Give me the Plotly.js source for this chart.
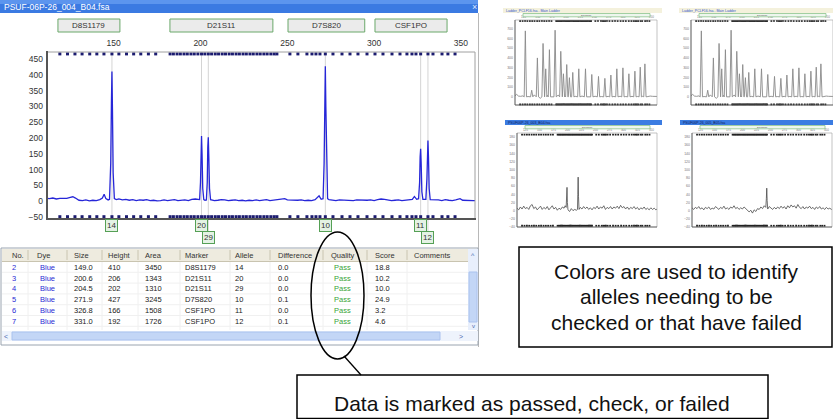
<!DOCTYPE html>
<html><head><meta charset="utf-8">
<script src="https://cdn.plot.ly/plotly-3.0.1.min.js"></script>
<style>html,body{margin:0;padding:0;background:#fff;overflow:hidden}#chart{width:833px;height:419px}</style>
</head><body><div id="chart"></div>
<script>
// ================= DATA =================
const windowTitle = "PSUF-06P-26_004_B04.fsa";
const markerNames = ["D8S1179", "D21S11", "D7S820", "CSF1PO"];
const markerStart = [117.9, 182.4, 250.4, 300.5];
const markerEnd   = [153.6, 241.7, 294.6, 342.0];
const sizeTicks = [150, 200, 250, 300, 350];
const rfuTicks = [-50, 0, 50, 100, 150, 200, 250, 300, 350, 400, 450];
const binBp = [119.0,123.4,127.7,131.8,136.2,140.3,144.4,149.0,153.0,157.4,161.5,165.6,170.0,174.2,
  182.5,184.4,186.5,188.4,190.5,192.4,194.5,196.4,198.5,200.6,202.5,204.5,206.4,208.5,210.4,212.5,
  214.4,216.5,218.4,220.5,222.4,224.5,226.4,228.5,230.4,232.5,234.4,236.5,238.4,240.5,242.4,244.0,
  251.5,256.1,261.3,264.2,266.5,268.8,271.9,276.3,281.5,286.1,290.7,
  295.9,300.5,305.1,310.3,314.9,318.9,321.8,324.1,326.8,331.0,333.9,339.1,342.5,346.6];
// main blue signal: [size bp, RFU]
const mainSignal = [[111.6,9],[113,8],[115,10],[117,7],[119,9],[121,8],[123,9],[125,12],[126.5,14],[128,10],[130,3],[132,2],[134,4],[136,1],[138,3],[140,2],[142,5],[143.5,10],[144.5,22],[145.5,8],[146.8,4],
  [147.6,6],[148.3,120],[148.7,310],[149.0,410],[149.3,290],[149.7,90],[150.4,8],
  [151.5,5],[153,7],[155,4],[157,6],[159,3],[161,5],[163,2],[165,4],[167,3],[169,5],[171,2],[173,3],[175,1],[177,2],[179,4],[181,2],[183,3],[185,5],[187,2],[189,3],[191,4],[193,2],[195,6],[197,7],[198.8,4],
  [199.5,5],[200.0,60],[200.3,170],[200.6,206],[200.9,150],[201.3,40],[201.9,5],[202.6,3],
  [203.4,4],[203.9,60],[204.2,170],[204.5,202],[204.8,140],[205.2,40],[205.8,5],
  [206.5,4],[208,2],[210,3],[212,5],[214,4],[216,2],[218,3],[220,4],[222,2],[224,3],[226,1],[228,3],[230,2],[232,4],[234,2],[236,3],[238,5],[240,2],[242,3],[244,4],[246,5],[248.5,8],[250,4],[252,3],[254,2],[256,3],[258,4],[260,2],[262,3],[264,2],[266,5],[268.3,17],[269.5,6],
  [270.6,8],[271.2,120],[271.6,340],[271.9,427],[272.2,300],[272.6,100],[273.2,8],
  [274,5],[276,3],[278,2],[280,4],[282,3],[284,2],[286,3],[288,2],[290,4],[292,3],[294,2],[296,3],[298,4],[300,2],[302,5],[304,7],[306,6],[308,3],[310,2],[312,3],[314,4],[316,2],[318,3],[320,5],[322,6],[323.2,15],[324.5,6],
  [325.6,8],[326.2,60],[326.5,140],[326.8,166],[327.1,120],[327.5,30],[328.1,6],[329,7],
  [329.8,6],[330.4,70],[330.7,160],[331.0,192],[331.3,140],[331.7,40],[332.3,5],
  [333.2,5],[335,3],[337,4],[339,2],[341,5],[343,3],[345,2],[347,4],[349.5,8],[351,3],[353,2],[355,3],[357,2],[358.1,2]];
// results table
const tableCols = ["No.","Dye","Size","Height","Area","Marker","Allele","Difference","Quality","Score","Comments"];
const rowNo      = ["2","3","4","5","6","7"];
const rowDye     = ["Blue","Blue","Blue","Blue","Blue","Blue"];
const rowSize    = [149.0, 200.6, 204.5, 271.9, 326.8, 331.0];
const rowHeight  = [410, 206, 202, 427, 166, 192];
const rowArea    = [3450, 1343, 1310, 3245, 1508, 1726];
const rowMarker  = ["D8S1179","D21S11","D21S11","D7S820","CSF1PO","CSF1PO"];
const rowAllele  = ["14","20","29","10","11","12"];
const rowDiff    = ["0.0","0.0","0.0","0.1","0.0","0.1"];
const rowQuality = ["Pass","Pass","Pass","Pass","Pass","Pass"];
const rowScore   = ["18.8","10.2","10.0","24.9","3.2","4.6"];
// thumbnails: allelic ladder
const ladderPeakBp  = [128.2,139.4,149.4,159.4,164.1,170.6,180.6,190.6,195.3,201.1,205.8,211.7,222.3,234.1,245.2,257.0,268.2,278.8,289.3,300.0,310.5,321.1,330.5,338.7];
const ladderPeakRfu = [678,68,400,549,288,485,685,468,237,332,197,251,288,288,230,210,190,224,288,298,237,264,305,339];
const ladderBase = [[110,12],[113,25],[116,8],[120,5],[124,10],[133,3],[144,20],[154.5,-15],[167,15],[176,4],[186,18],[198,8],[216,5],[228,8],[240,4],[251,6],[262,3],[274,5],[284,4],[295,6],[305,3],[316,5],[326,4],[335,6],[344,3],[348,8],[352,5],[356,2],[360,4]];
const ladderRow2Bp = [154.1, 180.6, 195.3, 336.4];
const ladderRow3Bp = [165.9, 198.2];
// thumbnails: samples
const sampleA = [[110,6],[113,2],[116,9],[119,4],[122,11],[125,5],[128,8],[131,3],[134,12],[137,15],[140,5],[143,9],[146,2],[149,7],[152,11],[155,3],[158,8],[161,4],[164,10],[167,2],[170,7],[173,12],[176,4],[179,8],[182,1],[185,6],[188,3],[191,9],[194,6],[196,12],[197.8,8],[198.6,30],[199.3,57],[200,20],[201,2],[204,-2],[207,5],[210,0],[213,3],[216,1],[218,3],[218.6,40],[219.2,82],[219.8,35],[220.8,3],[223,8],[226,4],[229,10],[232,5],[235,9],[238,3],[241,7],[244,2],[247,8],[250,5],[253,11],[256,4],[259,9],[262,6],[265,12],[268,3],[271,8],[274,5],[277,10],[280,4],[283,9],[286,6],[289,11],[292,5],[295,13],[298,7],[301,10],[304,4],[307,9],[310,3],[313,8],[316,5],[319,10],[322,4],[325,8],[328,2],[331,7],[334,4],[337,9],[340,3],[343,6],[346,2],[349,7],[352,3],[355,6],[358,2],[360,4]];
const sampleB = [[110,7],[113,3],[116,8],[119,5],[122,10],[125,4],[128,7],[131,2],[134,8],[137,5],[140,9],[143,3],[146,6],[149,4],[152,10],[155,6],[158,3],[161,8],[164,5],[167,11],[170,4],[173,7],[176,3],[179,9],[182,6],[185,12],[188,5],[191,8],[194,3],[197,7],[200,4],[203,9],[206,5],[209,2],[212,-3],[215,1],[218,-6],[221,2],[224,-2],[227,5],[230,3],[233,9],[236,5],[239,12],[241.8,8],[242.8,30],[243.5,55],[244.2,25],[245.2,4],[248,10],[251,6],[254,3],[257,8],[260,4],[263,9],[266,5],[269,11],[272,6],[275,10],[278,4],[281,12],[284,7],[287,14],[290,9],[293,12],[296,6],[299,15],[302,8],[305,5],[308,10],[311,4],[314,9],[317,6],[320,11],[323,5],[326,8],[329,3],[332,9],[335,5],[338,10],[341,4],[344,7],[347,3],[350,8],[353,4],[356,6],[359,3],[362,5]];
const sampleACalls = [[199.3,"check"],[219.2,"pass"]];
const sampleBCalls = [[243.5,"fail"]];
const thumbSizeTicks = [125,150,175,200,225,250,275,300,325,350];
const ladderRfuTicks = [0,100,200,300,400,500,600,700];
const sampleRfuTicks = [-40,-20,0,20,40,60,80,100,120,140,160,180];
const calloutRight = ["Colors are used to identify","alleles needing to be","checked or that have failed"];
const calloutBottom = "Data is marked as passed, check, or failed";

// ================= DRAWING =================
const W = 833, H = 419;
const px = v => v / W, py = v => 1 - v / H;
const FONT = "Liberation Sans, Arial, sans-serif";
const shapes = [], annotations = [], traces = [];
function rect(x0, y0, x1, y1, fill, line, lw, layer) {
  shapes.push({type:'rect', xref:'paper', yref:'paper', x0:px(x0), x1:px(x1), y0:py(y1), y1:py(y0),
    fillcolor: fill || 'rgba(0,0,0,0)', line:{color: line || 'rgba(0,0,0,0)', width: lw === undefined ? 1 : lw}, layer: layer || 'above'});
}
function hline(x0, x1, y, color, w) { shapes.push({type:'line', xref:'paper', yref:'paper', x0:px(x0), x1:px(x1), y0:py(y), y1:py(y), line:{color, width:w||1}}); }
function vline(x, y0, y1, color, w) { shapes.push({type:'line', xref:'paper', yref:'paper', x0:px(x), x1:px(x), y0:py(y0), y1:py(y1), line:{color, width:w||1}}); }
function txt(x, y, t, size, color, anchor, extra) {
  annotations.push(Object.assign({xref:'paper', yref:'paper', x:px(x), y:py(y), text:t, showarrow:false,
    xanchor: anchor || 'left', yanchor:'middle', font:{family:FONT, size:size, color:color || '#222'}}, extra || {}));
}

// ---- main window ----
rect(0, 0, 478, 13, '#3b7ae2', null, 0);
rect(0, 0, 478, 4, '#5c95ee', null, 0);
txt(2, 6.5, windowTitle, 8.5, '#ffffff');
txt(474, 6.5, '×', 9, '#dfe8ff', 'center');
vline(478.5, 13, 347, '#b8b8b8', 1);

// marker boxes (data x)
markerNames.forEach((m, i) => {
  shapes.push({type:'rect', xref:'x', yref:'paper', x0:markerStart[i], x1:markerEnd[i], y0:py(32), y1:py(19),
    fillcolor:'#ebebeb', line:{color:'#6aa86a', width:1}});
  annotations.push({xref:'x', yref:'paper', x:(markerStart[i] + markerEnd[i]) / 2, y:py(25.5), text:m, showarrow:false,
    xanchor:'center', yanchor:'middle', font:{family:FONT, size:8, color:'#333'}});
});

// peak guide lines + allele labels
let prevBp = -1e9, prevRow = 0;
rowSize.forEach((s, i) => {
  const row = (s - prevBp < 8 && prevRow === 0) ? 1 : 0;
  prevBp = s; prevRow = row;
  const ly = row ? 237 : 225;
  shapes.push({type:'line', xref:'x', yref:'paper', x0:s, x1:s, y0:py(ly - 6), y1:py(52), line:{color:'#d4d4d4', width:1}, layer:'below'});
  annotations.push({xref:'x', yref:'paper', x:s, y:py(ly), text:rowAllele[i], showarrow:false, xanchor:'center', yanchor:'middle',
    bgcolor:'#e4f2e4', bordercolor:'#55a055', borderwidth:1, borderpad:1, font:{family:FONT, size:8, color:'#333'}});
});

// main plot frame
hline(47, 475, 52, '#a0a0a0', 1);
vline(475, 52, 219, '#a0a0a0', 1);
vline(47, 51, 220, '#555555', 2);
hline(46, 476, 219, '#555555', 2);

traces.push({type:'scatter', mode:'lines', x:mainSignal.map(p => p[0]), y:mainSignal.map(p => p[1]),
  line:{color:'#2626d8', width:1.3}, xaxis:'x', yaxis:'y', hoverinfo:'skip'});
traces.push({type:'scatter', mode:'markers', x:binBp, y:binBp.map(() => 466), xaxis:'x', yaxis:'y', cliponaxis:false,
  marker:{symbol:'square', size:3, color:'#1c1c70'}, hoverinfo:'skip'});
traces.push({type:'scatter', mode:'markers', x:binBp, y:binBp.map(() => -49), xaxis:'x', yaxis:'y', cliponaxis:false,
  marker:{symbol:'square', size:3, color:'#1c1c70'}, hoverinfo:'skip'});

// ---- table ----
const colX = [10, 35, 72, 106, 143, 183, 233, 276, 329, 373, 412];
const colSep = [28, 67, 102, 138, 180, 230, 270, 323, 367, 407];
rect(1, 248, 478, 345, '#ffffff', '#9aa4b0', 1);
rect(2, 249, 468, 261, '#eeebdf', null, 0);
hline(2, 468, 261.5, '#c9c4b0', 1);
colSep.forEach(x => vline(x, 250, 260, '#c9c4b0', 1));
colSep.forEach(x => vline(x, 262, 330, '#f0f0f0', 1));
for (let r = 1; r <= 6; r++) hline(2, 468, 261.5 + r * 10.8, '#f0f0f0', 1);
tableCols.forEach((c, j) => txt(colX[j], 255.5, c, 7.5, '#333'));
const cols = [rowNo, rowDye, rowSize.map(v => v.toFixed(1)), rowHeight.map(String), rowArea.map(String), rowMarker, rowAllele, rowDiff, rowQuality, rowScore];
const colColor = ['#2a2ad4', '#2a2ad4', '#222', '#222', '#222', '#222', '#222', '#222', '#36a336', '#222'];
rowNo.forEach((_, i) => {
  const y = 267.2 + i * 10.8;
  cols.forEach((col, j) => txt(colX[j] + (j === 1 ? 3 : 0) + (j === 8 ? 3 : 0), y, col[i], 7.5, colColor[j]));
});
// scrollbars
rect(468, 249, 478, 330, '#e8effc', null, 0);
rect(469, 272, 477, 322, '#c3d6f6', '#aac2ee', 1);
txt(473, 255, '^', 7, '#4a6ab0', 'center');
txt(473, 326, 'v', 6, '#4a6ab0', 'center');
rect(2, 331, 478, 341, '#eef3fc', null, 0);
rect(12, 332, 440, 340, '#c3d6f6', '#aac2ee', 1);
txt(6, 336, '<', 7, '#4a6ab0', 'center');
txt(461, 336, '>', 7, '#4a6ab0', 'center');

// ---- thumbnails ----
function ladderTrace() {
  const pts = ladderBase.filter(p => ladderPeakBp.every(b => Math.abs(b - p[0]) > 2.2)).slice();
  ladderPeakBp.forEach((b, i) => { pts.push([b - 2, 0]); pts.push([b, ladderPeakRfu[i]]); pts.push([b + 2, 0]); });
  pts.sort((a, b) => a[0] - b[0]);
  return pts;
}
const thumbs = [
  {ax:2, x0:515, x1:657, y0:20, y1:105, band:'#f4f1dc', bandTxt:'#3355cc', label:'Ladder_PCLF16.fsa - Main Ladder', kind:'ladder'},
  {ax:3, x0:691, x1:833, y0:20, y1:105, band:'#f4f1dc', bandTxt:'#3355cc', label:'Ladder_PCLF16.fsa - Main Ladder', kind:'ladder'},
  {ax:4, x0:517, x1:657, y0:133, y1:227, band:'#3b7ce2', bandTxt:'#10205a', label:'PSUF06P-26_003_B04.fsa', kind:'A'},
  {ax:5, x0:692, x1:832, y0:133, y1:227, band:'#3b7ce2', bandTxt:'#10205a', label:'PSUF06P-26_005_B05.fsa', kind:'B'}
];
const layoutAxes = {};
thumbs.forEach(t => {
  const isL = t.kind === 'ladder';
  const bx0 = t.x0 - 12, bx1 = Math.min(t.x1 + 5, 833);
  const by = isL ? 8 : 120;
  rect(bx0, by, bx1, by + 5, t.band, null, 0);
  txt(bx0 + 1, by + 2.5, t.label, 3.5, t.bandTxt);
  rect(t.x0 + 8, by + 5.5, t.x1 - 7, by + 8.8, '#eef6ee', '#8cc48c', 0.8);
  txt((t.x0 + t.x1) / 2, by + 7.1, 'D16S539', 2.5, '#555', 'center');
  hline(t.x0, t.x1, t.y0, '#aaaaaa', 0.7);
  vline(t.x1, t.y0, t.y1, '#aaaaaa', 0.7);
  vline(t.x0, t.y0, t.y1, '#555555', 1);
  hline(t.x0, t.x1, t.y1, '#555555', 1);
  const xa = 'x' + t.ax, ya = 'y' + t.ax;
  const yr = isL ? [-84, 790] : [-40, 190];
  layoutAxes['xaxis' + t.ax] = {domain:[px(t.x0), px(t.x1)], range:[110, 360], anchor:ya, side:'top', showgrid:false, zeroline:false,
    showline:false, ticks:'', tickvals:thumbSizeTicks, tickfont:{family:FONT, size:3, color:'#777'}, ticklabelstandoff:0};
  layoutAxes['yaxis' + t.ax] = {domain:[py(t.y1), py(t.y0)], range:yr, anchor:xa, showgrid:false, zeroline:false, showline:false,
    ticks:'', tickvals:isL ? ladderRfuTicks : sampleRfuTicks, tickfont:{family:FONT, size:3.5, color:'#777'}, ticklabelstandoff:1};
  const bins = binBp.filter(b => b > 112 && b < 358);
  const topY = isL ? 780 : 186, botY = isL ? -78 : -37;
  [topY, botY].forEach(yv => traces.push({type:'scatter', mode:'markers', x:bins, y:bins.map(() => yv), xaxis:xa, yaxis:ya,
    cliponaxis:false, marker:{symbol:'square', size:1.8, color:'#222'}, hoverinfo:'skip'}));
  let pts;
  if (isL) pts = ladderTrace(); else pts = t.kind === 'A' ? sampleA : sampleB;
  traces.push({type:'scatter', mode:'lines', x:pts.map(p => p[0]), y:pts.map(p => p[1]), xaxis:xa, yaxis:ya,
    line:{color: isL ? '#8a8a8a' : '#4a4a4a', width: isL ? 0.9 : 0.8}, hoverinfo:'skip'});
  if (isL) {
    const greenMk = (xs, yv) => traces.push({type:'scatter', mode:'markers', x:xs, y:xs.map(() => yv), xaxis:xa, yaxis:ya, cliponaxis:false,
      marker:{symbol:'square', size:3.2, color:'#dcefdc', line:{color:'#5aaa5a', width:0.6}}, hoverinfo:'skip'});
    greenMk(ladderPeakBp, -112); greenMk(ladderRow2Bp, -168); greenMk(ladderRow3Bp, -218);
  } else {
    const calls = t.kind === 'A' ? sampleACalls : sampleBCalls;
    calls.forEach(c => {
      const col = c[1] === 'fail' ? ['#e01818', '#b00000', 11] : c[1] === 'check' ? ['#e4e43a', '#a8a800', 6] : ['#dcefdc', '#5aaa5a', 6];
      traces.push({type:'scatter', mode:'markers', x:[c[0]], y:[-50], xaxis:xa, yaxis:ya, cliponaxis:false,
        marker:{symbol:'square', size:col[2], color:col[0], line:{color:col[1], width:0.8}}, hoverinfo:'skip'});
    });
  }
});

// ---- callouts ----
rect(519, 247, 832, 347, 'rgba(0,0,0,0)', '#000', 1.5);
calloutRight.forEach((l, i) => txt(676, 271 + i * 25.5, l, 21, '#111', 'center'));
rect(297, 375, 768, 418.5, 'rgba(0,0,0,0)', '#000', 1.5);
txt(532, 403, calloutBottom, 21, '#111', 'center');
shapes.push({type:'circle', xref:'paper', yref:'paper', x0:px(311), x1:px(364), y0:py(359), y1:py(232), line:{color:'#000', width:1.5}});
shapes.push({type:'line', xref:'paper', yref:'paper', x0:px(344), y0:py(356), x1:px(361), y1:py(375), line:{color:'#000', width:1.3}});

const layout = Object.assign({
  width:W, height:H, margin:{l:0, r:0, t:0, b:0}, paper_bgcolor:'#ffffff', plot_bgcolor:'rgba(0,0,0,0)', showlegend:false,
  xaxis:{domain:[px(47), px(475)], range:[111.6, 358.1], side:'top', anchor:'y', tickvals:sizeTicks, ticks:'', showgrid:false,
    zeroline:false, showline:false, tickfont:{family:FONT, size:8.5, color:'#333'}, ticklabelstandoff:3},
  yaxis:{domain:[py(219), py(52)], range:[-56.3, 472], anchor:'x', tickvals:rfuTicks, ticks:'', showgrid:false, zeroline:false,
    showline:false, tickfont:{family:FONT, size:8.5, color:'#333'}, ticklabelstandoff:3},
  shapes, annotations
}, layoutAxes);
Plotly.newPlot('chart', traces, layout, {staticPlot:true, displayModeBar:false});
</script></body></html>
